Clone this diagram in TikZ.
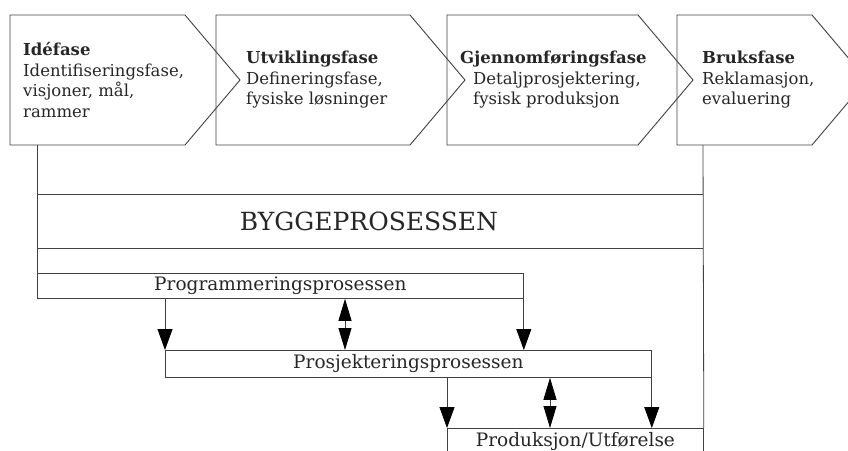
\documentclass[tikz,border=0pt]{standalone}
\usepackage{fontspec}
\setmainfont{DejaVu Serif}
\usepackage{tikz}
\usetikzlibrary{arrows.meta,positioning}
\tikzset{
  fase/.style={draw=black!75, line width=0.9pt},
  fasetxt/.style={anchor=west, align=left, inner sep=0pt, text=black!85,
    font=\fontsize{16.5}{20.5}\selectfont},
  linje/.style={draw=black!75, line width=0.8pt},
  boks/.style={draw=black!75, line width=0.8pt, anchor=north west, inner sep=0pt,
    text=black!85, font=\fontsize{18.5}{20}\selectfont},
  spiss/.tip={Triangle[length=21pt,width=15pt,color=black]},
  pil/.style={linje, -spiss},
  dobbelpil/.style={linje, {Triangle[length=22pt,width=13pt,color=black]}-{Triangle[length=22pt,width=13pt,color=black]}}
}

\begin{document}
\begin{tikzpicture}[x=1pt, y=-1pt]
    \clip (0,0) rectangle (848,450);
    \foreach \l/\r in {10/185, 216/410, 447/638, 677/812} {
        \draw[fase] (\l,15) -- (\r,15) -- ++(55,65) -- (\r,145) -- (\l,145) -- cycle;
    }
    \node[fasetxt] (ide) at (23,80) {\textbf{Idéfase}\\Identifiseringsfase,\\visjoner, mål,\\rammer};
    \node[fasetxt] (utv) at (246,80) {\textbf{Utviklingsfase}\\Defineringsfase,\\fysiske løsninger};
    \node[fasetxt] (gjen) at (473,80) {\hspace*{-13pt}\textbf{Gjennomføringsfase}\\Detaljprosjektering,\\fysisk produksjon};
    \node[fasetxt] (bruk) at (702,80) {\textbf{Bruksfase}\\Reklamasjon,\\evaluering};
    \coordinate (ideB) at (37,145);
    \coordinate (brukB) at (703,145);

    \coordinate (byggNW) at (37,194);
    \coordinate (byggSE) at (703,248);
    \draw[linje] (byggNW) -- (byggNW -| byggSE);
    \draw[linje, line width=0.6pt] (byggNW |- byggSE) -- (byggSE);
    \node[font=\fontsize{25}{30}\selectfont, text=black!85] (bygg) at (369,221) {BYGGEPROSESSEN};

    \node[boks, minimum width=486pt, minimum height=25pt] (prog) at (37,273) {Programmeringsprosessen};
    \node[boks, minimum width=486pt, minimum height=27pt] (proj) at (165,350) {Prosjekteringsprosessen};
    \node[boks, minimum width=256pt, minimum height=26pt] (prod) at (447,428) {Produksjon/Utførelse};

    \draw[linje] (ideB) -- (prog.south west);
    \draw[linje] (brukB) -- (prod.north east);
    \draw[linje] (prod.south east) -- ++(0,20);
    \draw[linje] (prod.south west) -- ++(0,20);

    \coordinate (d1) at (345,0);
    \coordinate (d2) at (550,0);
    \draw[pil] (proj.north west |- prog.south) -- (proj.north west);
    \draw[dobbelpil] (d1 |- prog.south) -- (d1 |- proj.north);
    \draw[pil] (prog.south east) -- (prog.south east |- proj.north);
    \draw[pil] (prod.north west |- proj.south) -- (prod.north west);
    \draw[dobbelpil] (d2 |- proj.south) -- (d2 |- prod.north);
    \draw[pil] (proj.south east) -- (proj.south east |- prod.north);
\end{tikzpicture}
\end{document}
